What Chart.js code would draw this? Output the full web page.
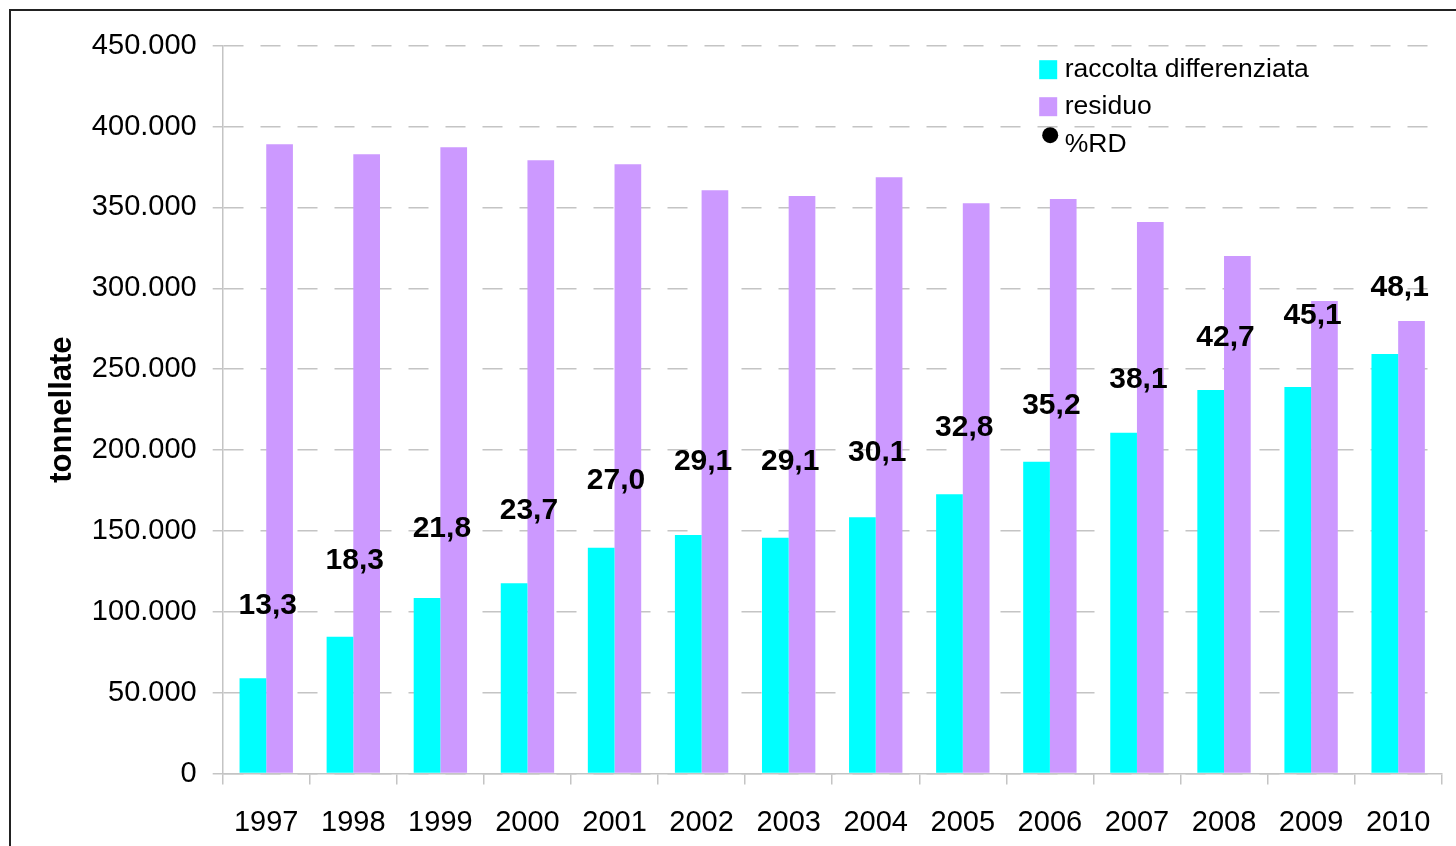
<!DOCTYPE html>
<html>
<head>
<meta charset="utf-8">
<script src="https://cdn.jsdelivr.net/npm/chart.js@4.4.0/dist/chart.umd.min.js"></script>
<style>
html,body{margin:0;padding:0;background:#fff;}
#wrap{position:relative;width:1456px;height:846px;}
</style>
</head>
<body>
<div id="wrap"><canvas id="c"></canvas></div>
<script>
const years = ['1997','1998','1999','2000','2001','2002','2003','2004','2005','2006','2007','2008','2009','2010'];
const raccoltaDifferenziata = [58900, 84600, 108500, 117600, 139600, 147500, 145800, 158400, 172600, 192800, 210700, 237100, 239000, 259400];
const residuo = [389000, 382900, 387200, 379100, 376700, 360600, 357100, 368600, 352600, 355200, 341000, 320000, 292200, 279800];
const percentRD = [13.3, 18.3, 21.8, 23.7, 27.0, 29.1, 29.1, 30.1, 32.8, 35.2, 38.1, 42.7, 45.1, 48.1];
const seriesNames = ['raccolta differenziata', 'residuo', '%RD'];
const seriesColors = ['#00FFFF', '#CC99FF', '#000000'];
const yAxisTitle = 'tonnellate';

const FONT = '"Liberation Sans", Arial, sans-serif';
const GRID = '#C4C4C4';

function itNumber(v) {
  return String(Math.round(v)).replace(/\B(?=(\d{3})+(?!\d))/g, '.');
}

const decorPlugin = {
  id: 'decor',
  beforeDraw(chart) {
    const ctx = chart.ctx;
    ctx.save();
    ctx.strokeStyle = '#222';
    ctx.lineWidth = 2;
    ctx.beginPath();
    ctx.moveTo(10, 2000);
    ctx.lineTo(10, 10);
    ctx.lineTo(2000, 10);
    ctx.stroke();
    ctx.restore();
  },
  afterDatasetsDraw(chart) {
    const ctx = chart.ctx;
    const meta = chart.getDatasetMeta(2);
    ctx.save();
    ctx.font = 'bold 30px ' + FONT;
    ctx.fillStyle = '#000';
    ctx.textAlign = 'center';
    ctx.textBaseline = 'middle';
    meta.data.forEach((pt, i) => {
      ctx.fillText(percentRD[i].toFixed(1).replace('.', ','), pt.x + 1.5, pt.y);
    });
    ctx.restore();
  },
  afterDraw(chart) {
    const ctx = chart.ctx;
    const a = chart.chartArea;
    const lx = a.left + 816.5;
    const ty = a.top;
    ctx.save();
    ctx.font = '26.5px ' + FONT;
    ctx.textAlign = 'left';
    ctx.textBaseline = 'alphabetic';
    ctx.fillStyle = seriesColors[0];
    ctx.fillRect(lx, ty + 14.5, 18, 19);
    ctx.fillStyle = seriesColors[1];
    ctx.fillRect(lx, ty + 51.5, 18, 19);
    ctx.fillStyle = seriesColors[2];
    ctx.beginPath();
    ctx.arc(lx + 11, ty + 89.5, 8, 0, Math.PI * 2);
    ctx.fill();
    ctx.fillStyle = '#000';
    ctx.fillText(seriesNames[0], lx + 25.5, ty + 31);
    ctx.fillText(seriesNames[1], lx + 25.5, ty + 68.5);
    ctx.fillText(seriesNames[2], lx + 25.5, ty + 106);
    ctx.restore();
  }
};

new Chart(document.getElementById('c'), {
  type: 'bar',
  data: {
    labels: years,
    datasets: [
      { label: seriesNames[0], data: raccoltaDifferenziata, backgroundColor: seriesColors[0], borderWidth: 0, categoryPercentage: 0.613, barPercentage: 1.0, yAxisID: 'y', order: 2 },
      { label: seriesNames[1], data: residuo, backgroundColor: seriesColors[1], borderWidth: 0, categoryPercentage: 0.613, barPercentage: 1.0, yAxisID: 'y', order: 2 },
      { type: 'line', label: seriesNames[2], data: percentRD, showLine: false, pointRadius: 0, pointHoverRadius: 0, borderColor: 'rgba(0,0,0,0)', backgroundColor: 'rgba(0,0,0,0)', yAxisID: 'y2', order: 1 }
    ]
  },
  options: {
    responsive: true,
    maintainAspectRatio: false,
    animation: false,
    events: [],
    layout: { padding: { top: 45.7, right: 14.3, bottom: 0, left: 0 } },
    plugins: { legend: { display: false }, tooltip: { enabled: false }, title: { display: false } },
    scales: {
      x: {
        grid: { display: true, drawOnChartArea: false, drawTicks: true, tickLength: 11, color: GRID, lineWidth: 1.5, tickColor: GRID, tickWidth: 1.5 },
        border: { display: true, color: GRID, width: 1.5 },
        ticks: { color: '#000', font: { family: FONT, size: 29 }, padding: 21, maxRotation: 0, autoSkip: false },
        afterFit(scale) { scale.height = 72.5; }
      },
      y: {
        position: 'left',
        min: 0, max: 450000,
        ticks: { stepSize: 50000, color: '#000', font: { family: FONT, size: 29 }, padding: 16, callback: (v) => itNumber(v) },
        grid: { display: true, drawOnChartArea: true, drawTicks: true, tickLength: 10, color: GRID, lineWidth: 1.5, tickColor: GRID, tickWidth: 1.5 },
        border: { display: true, color: GRID, width: 1.5, dash: [20, 17], dashOffset: 0 },
        title: { display: true, text: yAxisTitle, color: '#000', font: { family: FONT, size: 31, weight: 'bold' }, padding: { top: 44, bottom: 0 } },
        afterFit(scale) { scale.width = 222.7; }
      },
      y2: {
        display: false,
        min: -5, max: 74.6
      }
    }
  },
  plugins: [decorPlugin]
});
</script>
</body>
</html>
